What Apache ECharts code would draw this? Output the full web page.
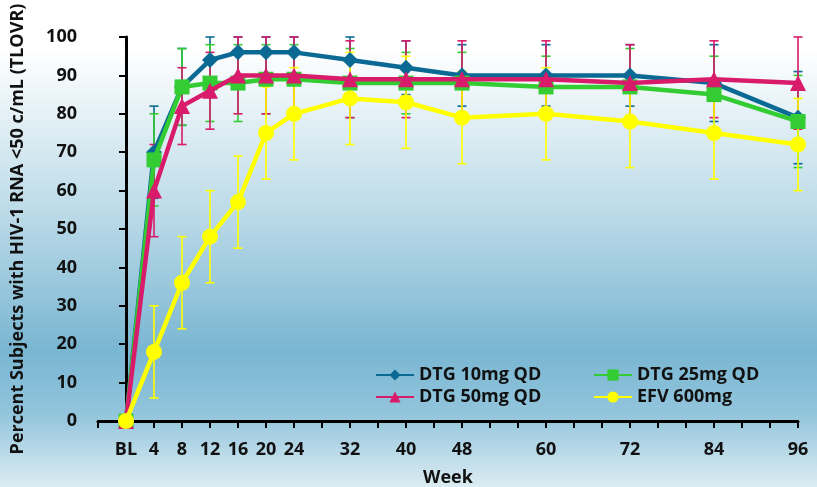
<!DOCTYPE html>
<html><head><meta charset="utf-8">
<script src="https://cdn.jsdelivr.net/npm/echarts@6/dist/echarts.min.js"></script>
<style>html,body{margin:0;padding:0;}#c{width:817px;height:487px;}</style>
</head><body><div id="c"></div>
<script>
const weeks = [0, 4, 8, 12, 16, 20, 24, 32, 40, 48, 60, 72, 84, 96];
const labeledWeeks = [0, 4, 8, 12, 16, 20, 24, 32, 40, 48, 60, 72, 84, 96];
const seriesNames = ['DTG 10mg QD', 'DTG 25mg QD', 'DTG 50mg QD', 'EFV 600mg'];
const dtg10 = [0, 70, 87, 94, 96, 96, 96, 94, 92, 90, 90, 90, 88, 79];
const dtg10Err = [0, 12, 10, 8, 6, 6, 6, 7, 7, 8, 8, 8, 10, 12];
const dtg25 = [0, 68, 87, 88, 88, 89, 89, 88, 88, 88, 87, 87, 85, 78];
const dtg25Err = [0, 12, 10, 10, 10, 9, 9, 9, 8, 8, 8, 10, 10, 12];
const dtg50 = [0, 60, 82, 86, 90, 90, 90, 89, 89, 89, 89, 88, 89, 88];
const dtg50Err = [0, 12, 10, 10, 10, 10, 10, 10, 10, 10, 10, 10, 10, 12];
const efv = [0, 18, 36, 48, 57, 75, 80, 84, 83, 79, 80, 78, 75, 72];
const efvErr = [0, 12, 12, 12, 12, 12, 12, 12, 12, 12, 12, 12, 12, 12];

const colors = ['#0b6a94', '#33cc33', '#d81b6a', '#ffff00'];
const symbols = ['diamond', 'rect', 'triangle', 'circle'];
const symbolSizes = [16, 15, 16, 16];
const vals = [dtg10, dtg25, dtg50, efv];
const errs = [dtg10Err, dtg25Err, dtg50Err, efvErr];
const FONT = 'Open Sans';

const chart = echarts.init(document.getElementById('c'), null, {renderer: 'canvas'});

const series = [];
vals.forEach((v, i) => {
  const errData = [];
  weeks.forEach((w, k) => {
    if (errs[i][k] > 0) errData.push([w, Math.max(0, v[k] - errs[i][k]), Math.min(100, v[k] + errs[i][k])]);
  });
  series.push({
    type: 'custom',
    name: seriesNames[i] + ' err',
    z: 1,
    silent: true,
    data: errData,
    renderItem: function (params, api) {
      const x = api.value(0);
      const lo = api.coord([x, api.value(1)]);
      const hi = api.coord([x, api.value(2)]);
      const cw = 4.5;
      const st = {stroke: colors[i], lineWidth: 1.6};
      return {type: 'group', children: [
        {type: 'line', shape: {x1: lo[0], y1: lo[1], x2: hi[0], y2: hi[1]}, style: st},
        {type: 'line', shape: {x1: lo[0] - cw, y1: lo[1], x2: lo[0] + cw, y2: lo[1]}, style: st},
        {type: 'line', shape: {x1: hi[0] - cw, y1: hi[1], x2: hi[0] + cw, y2: hi[1]}, style: st}
      ]};
    }
  });
});
vals.forEach((v, i) => {
  series.push({
    type: 'line',
    name: seriesNames[i],
    z: 3 + i,
    data: weeks.map((w, k) => [w, v[k]]),
    symbol: symbols[i],
    symbolSize: symbolSizes[i],
    showAllSymbol: true,
    lineStyle: {color: colors[i], width: 4.5},
    itemStyle: {color: colors[i]},
    emphasis: {disabled: true}
  });
});

const legendText = {fontFamily: FONT, fontWeight: 'bold', fontSize: 18, lineHeight: 18, color: '#111'};
const legendBase = {top: 366, orient: 'vertical', padding: 0, itemGap: 4, itemWidth: 38, itemHeight: 14, textStyle: legendText, selectedMode: false};
chart.setOption({
  animation: false,
  backgroundColor: {type: 'linear', x: 0, y: 0, x2: 0, y2: 1, colorStops: [
    {offset: 0, color: '#ffffff'},
    {offset: 0.1, color: '#ffffff'},
    {offset: 0.45, color: '#b9d9e7'},
    {offset: 0.72, color: '#79b6d2'},
    {offset: 0.85, color: '#93c5dc'},
    {offset: 1, color: '#dbecf3'}
  ]},
  grid: {left: 98, right: 19, top: 37, bottom: 66, containLabel: false, outerBoundsMode: 'none'},
  legend: [
    Object.assign({data: [seriesNames[0], seriesNames[2]], left: 375}, legendBase),
    Object.assign({data: [seriesNames[1], seriesNames[3]], left: 593}, legendBase)
  ],
  xAxis: {
    type: 'value', min: -4, max: 96, interval: 4,
    name: 'Week', nameLocation: 'middle', nameGap: 48,
    nameTextStyle: {fontFamily: FONT, fontWeight: 'bold', fontSize: 18, color: '#111'},
    axisLine: {lineStyle: {color: '#000', width: 3}},
    axisTick: {show: true, length: 7, lineStyle: {color: '#000', width: 2}},
    splitLine: {show: false},
    axisLabel: {
      margin: 20, fontFamily: FONT, fontWeight: 'bold', fontSize: 18, color: '#111',
      showMinLabel: true, showMaxLabel: true,
      formatter: function (v) { if (labeledWeeks.indexOf(v) < 0) return ''; return v === 0 ? 'BL' : String(v); }
    }
  },
  yAxis: {
    type: 'value', min: 0, max: 100, interval: 10,
    name: 'Percent Subjects with HIV-1 RNA <50 c/mL (TLOVR)', nameLocation: 'middle', nameGap: 71, nameRotate: 90,
    nameTextStyle: {fontFamily: FONT, fontWeight: 'bold', fontSize: 18, color: '#111'},
    axisLine: {show: true, lineStyle: {color: '#000', width: 3}},
    axisTick: {show: true, length: 7, lineStyle: {color: '#000', width: 2}},
    splitLine: {show: false},
    axisLabel: {margin: 21, fontFamily: FONT, fontWeight: 'bold', fontSize: 18, color: '#111'}
  },
  series: series
});
</script></body></html>
